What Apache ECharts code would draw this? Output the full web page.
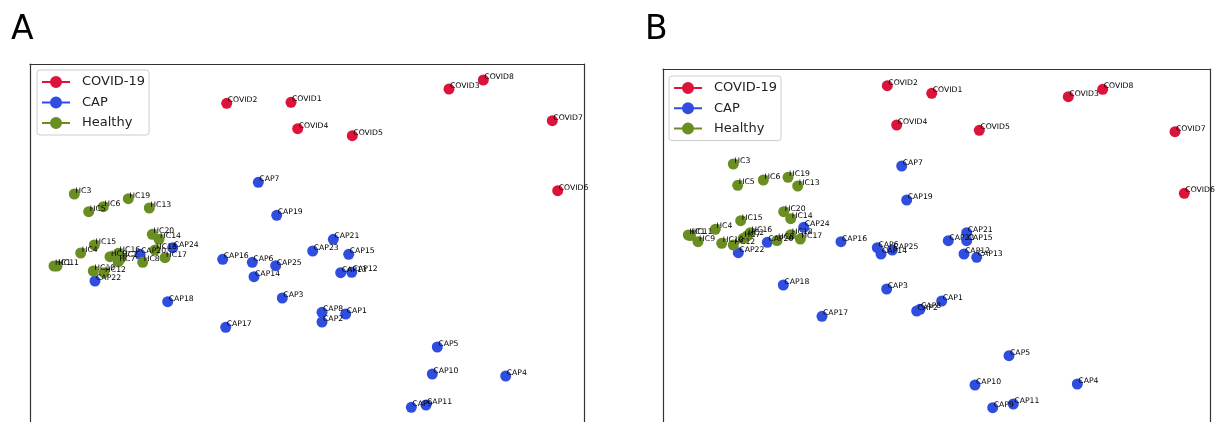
<!DOCTYPE html>
<html>
<head>
<meta charset="utf-8">
<script src="https://cdn.jsdelivr.net/npm/echarts@6/dist/echarts.min.js"></script>
<style>
  html, body { margin: 0; padding: 0; background: #fff; }
  #chart { width: 1218px; height: 422px; }
</style>
</head>
<body>
<div id="chart"></div>
<script>
// embedding coordinates (arbitrary units)
const covidNames = ["COVID1", "COVID2", "COVID3", "COVID4", "COVID5", "COVID6", "COVID7", "COVID8"];
const capNames = Array.from({ length: 25 }, (_, i) => "CAP" + (i + 1));
const hcNames = Array.from({ length: 20 }, (_, i) => "HC" + (i + 1));

// panel A
const covidA = [[261, 341.7], [196.7, 340.7], [419, 355], [267.7, 315.3], [322.3, 308.3], [527.7, 253.3], [522.3, 323.3], [453.3, 364]];
const capA = [
  [315.7, 130], [292, 122], [252.3, 146], [475.7, 68], [407.3, 97], [222.3, 181.7], [228.3, 261.7], [292, 131.7],
  [381.3, 36.7], [402.3, 70], [396, 39], [321.7, 171.7], [310.7, 171.3], [224, 167.3], [318.7, 189.7], [192.7, 184.7],
  [195.7, 116.7], [137.7, 142.3], [246.7, 228.7], [110, 189.7], [303.3, 204.7], [65, 163], [282.7, 193], [142.7, 196.3],
  [245.7, 178.3]
];
const hcA = [
  [24, 178], [91, 186], [44.3, 250], [50.7, 191], [58.7, 232.3], [73.3, 237.3], [88.3, 182.3], [112.7, 181.7],
  [80, 187.3], [63.3, 173], [27, 178], [74, 171.3], [119.3, 236], [129, 204.7], [64.3, 199], [88.3, 190.7],
  [135, 186.3], [125, 194], [98.3, 245.3], [122.3, 209.7]
];

// panel B
const covidB = [[268.7, 350.7], [224.3, 358.3], [405.3, 347.3], [233.7, 319], [316.3, 313.7], [521.3, 250.7], [512, 312.3], [439.7, 354.7]];
const capB = [
  [278.7, 143], [253.7, 133], [223.7, 155], [414.3, 60], [346, 88.3], [214.3, 196.3], [238.7, 278], [257, 134.7],
  [329.7, 36.3], [312, 59], [350.3, 40], [301, 190], [313.7, 186.7], [218, 190], [303.7, 203.3], [178, 202.3],
  [159, 127.7], [120.3, 159], [243.7, 244], [104.3, 201.7], [303.7, 211.3], [75.3, 191.3], [285.3, 203.3], [140.7, 216.7],
  [229.3, 194]
];
const hcB = [
  [25.3, 209], [84, 208], [70.3, 280], [52.3, 214.7], [74.7, 258.7], [100.3, 264], [80.3, 205.7], [114, 203.5],
  [35, 202.3], [58.7, 200.7], [27.5, 208.5], [70.3, 199], [134.7, 258], [127.7, 225.3], [77.7, 223.3], [87.3, 211.3],
  [137.3, 205], [127.7, 209.3], [125, 266.7], [120.7, 232.3]
];

const RED = "#dc143c";
const BLUE = "#2f4ee0";
const GREEN = "#6b8e23";
const FRAME = "#333333";

const legendIcon = "path://M0,5H28V7H0Z M14,0A6,6 0 1 1 14,12A6,6 0 1 1 14,0Z";

const chart = echarts.init(document.getElementById("chart"), null, { renderer: "canvas" });

const makeSeries = (name, color, names, pts, idx) => ({
  name: name,
  type: "scatter",
  xAxisIndex: idx,
  yAxisIndex: idx * 2,
  symbolSize: 11,
  silent: true,
  itemStyle: { color: color, opacity: 1 },
  data: pts.map((p, i) => ({ name: names[i], value: p })),
  label: {
    show: true,
    formatter: "{b}",
    position: [6.5, 2.5],
    align: "left",
    verticalAlign: "middle",
    fontSize: 7.7,
    fontFamily: "DejaVu Sans",
    color: "#000",
  },
  labelLayout: { hideOverlap: false },
  emphasis: { disabled: true },
});

// frame drawn with axis lines (top, left, right); bottom edge is cut off in the figure
const axisBase = {
  type: "value",
  axisLine: { show: true, onZero: false, lineStyle: { color: FRAME, width: 1.2 } },
  axisTick: { show: false },
  axisLabel: { show: false },
  splitLine: { show: false },
};

const legendBase = {
  orient: "vertical",
  itemWidth: 28,
  itemHeight: 12,
  itemGap: 7.5,
  icon: legendIcon,
  padding: [5.5, 4, 5.5, 5],
  borderColor: "#cccccc",
  borderWidth: 1,
  borderRadius: 3,
  backgroundColor: "rgba(255,255,255,0.8)",
  selectedMode: false,
  data: ["COVID-19", "CAP", "Healthy"],
  textStyle: {
    fontSize: 13,
    fontFamily: "DejaVu Sans",
    color: "#222",
    lineHeight: 12,
    padding: [0, 0, 0, 7],
  },
};

const letterStyle = { fontSize: 33, fontWeight: "normal", fontFamily: "DejaVu Sans", color: "#000" };

const option = {
  animation: false,
  backgroundColor: "#fff",
  title: [
    { text: "A", left: 11, top: 14, padding: 0, textStyle: letterStyle },
    { text: "B", left: 645, top: 14, padding: 0, textStyle: letterStyle },
  ],
  legend: [
    Object.assign({}, legendBase, { left: 37, top: 70 }),
    Object.assign({}, legendBase, { left: 669, top: 76, itemGap: 7.3 }),
  ],
  grid: [
    { left: 30, top: 64, width: 554, bottom: 0 },
    { left: 663, top: 69, width: 547, bottom: 0 },
  ],
  xAxis: [
    Object.assign({}, axisBase, { gridIndex: 0, position: "top", min: 0, max: 554 }),
    Object.assign({}, axisBase, { gridIndex: 1, position: "top", min: 0, max: 547 }),
  ],
  yAxis: [
    Object.assign({}, axisBase, { gridIndex: 0, position: "left", min: 22, max: 380 }),
    Object.assign({}, axisBase, { gridIndex: 0, position: "right", min: 22, max: 380 }),
    Object.assign({}, axisBase, { gridIndex: 1, position: "left", min: 22, max: 375 }),
    Object.assign({}, axisBase, { gridIndex: 1, position: "right", min: 22, max: 375 }),
  ],
  series: [
    makeSeries("COVID-19", RED, covidNames, covidA, 0),
    makeSeries("CAP", BLUE, capNames, capA, 0),
    makeSeries("Healthy", GREEN, hcNames, hcA, 0),
    makeSeries("COVID-19", RED, covidNames, covidB, 1),
    makeSeries("CAP", BLUE, capNames, capB, 1),
    makeSeries("Healthy", GREEN, hcNames, hcB, 1),
  ],
};

chart.setOption(option);

window.addEventListener("resize", () => {
  chart.resize();
});
</script>
</body>
</html>
